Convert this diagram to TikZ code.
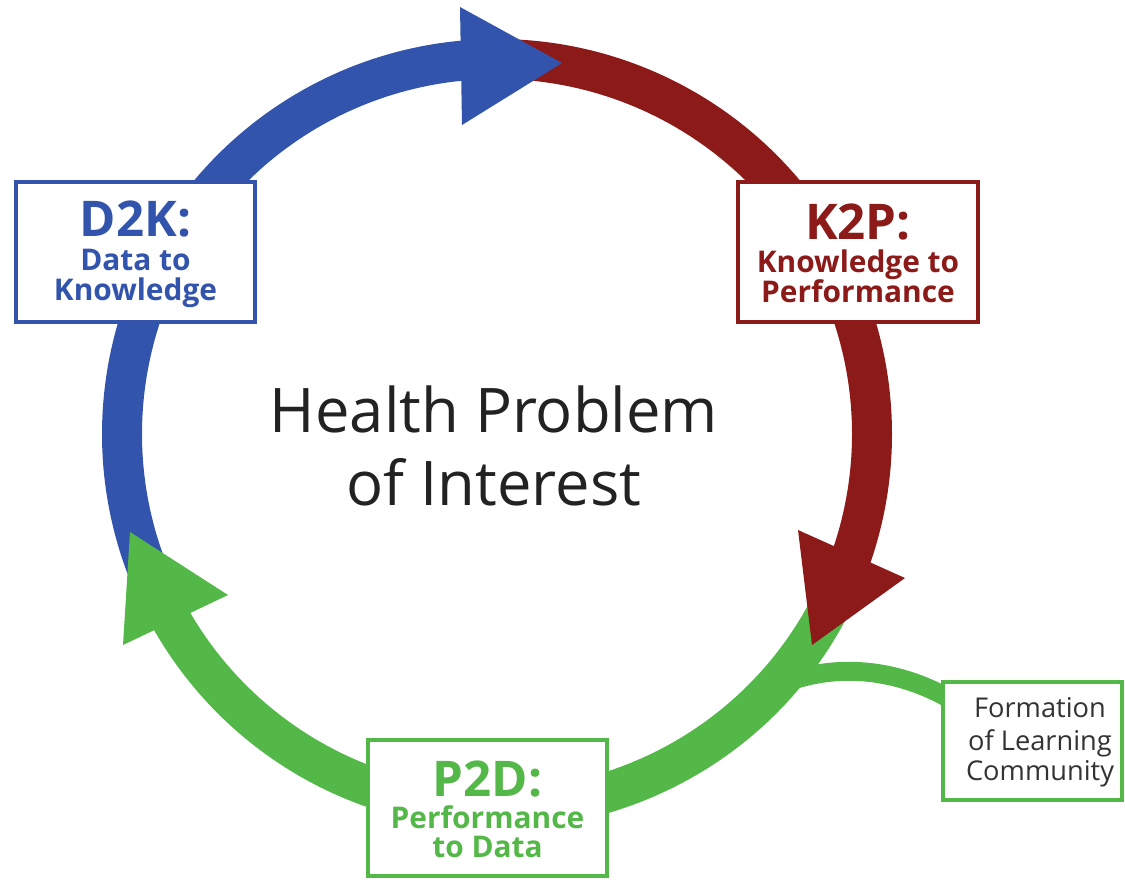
\documentclass[tikz,border=0pt]{standalone}
\usepackage{fontspec}
\setmainfont{Open Sans}
\definecolor{cblue}{RGB}{50,84,172}
\definecolor{cred}{RGB}{140,26,24}
\definecolor{cgreen}{RGB}{84,184,72}
\definecolor{ctext}{RGB}{34,34,34}
\definecolor{cgray}{RGB}{51,51,51}
\begin{document}
\begin{tikzpicture}[x=0.02cm,y=-0.02cm,
  shaft/.style={line width=0.8cm},
  box/.style={draw, line width=0.07cm, fill=white, inner sep=0pt},
  big/.style={font=\fontsize{28}{28}\selectfont\bfseries, anchor=base},
  sub/.style={font=\fontsize{17}{17}\selectfont\bfseries, anchor=base},
  small/.style={font=\fontsize{15.5}{15.5}\selectfont, text=cgray, anchor=base},
  center/.style={font=\fontsize{35}{35}\selectfont, text=ctext, anchor=base}]
\useasboundingbox (0,0) rectangle (1125,880);
\coordinate (O) at (497,434);
% shafts
\draw[shaft, cblue] (O) ++(157:375) arc[start angle=157, end angle=265, radius=375];
\draw[shaft, cred] (O) ++(268:375) arc[start angle=268, end angle=380, radius=375];
\draw[shaft, cgreen] (O) ++(24:375) arc[start angle=24, end angle=151, radius=375];
% feedback branch
\coordinate (fbstart) at (950,699);
\coordinate (join) at (782,684);
\draw[cgreen, line width=0.38cm] (fbstart) .. controls (895,668) and (835,663) .. (join);
% heads
\fill[cblue] (460,7) -- (562,63) -- (462,125) -- cycle;
\fill[cred] (798,530) -- (905,578) -- (812,645) -- cycle;
\fill[cgreen] (130,532) -- (123,645) -- (228,595) -- cycle;
% boxes
\node[box, draw=cblue, minimum width=4.78cm, minimum height=2.8cm] (d2k) at (135.5,252) {};
\node[box, draw=cred, minimum width=4.8cm, minimum height=2.8cm] (k2p) at (858,252) {};
\node[box, draw=cgreen, minimum width=4.78cm, minimum height=2.72cm] (p2d) at (487.5,808) {};
\node[box, draw=cgreen, minimum width=3.58cm, minimum height=2.36cm] (flc) at (1032.5,741) {};
% texts
\node[big, text=cblue] (d2ka) at (135.5,236) {D2K:};
\node[sub, text=cblue] (d2kb) at (135.5,270) {Data to};
\node[sub, text=cblue] (d2kc) at (135.5,300) {Knowledge};
\node[big, text=cred] (k2pa) at (858,239) {K2P:};
\node[sub, text=cred] (k2pb) at (858,272) {Knowledge to};
\node[sub, text=cred] (k2pc) at (858,302) {Performance};
\node[big, text=cgreen] (p2da) at (487.5,796) {P2D:};
\node[sub, text=cgreen] (p2db) at (487.5,828) {Performance};
\node[sub, text=cgreen] (p2dc) at (487.5,857) {to Data};
\node[small] (flca) at (1040,717) {Formation};
\node[small] (flcb) at (1040,750) {of Learning};
\node[small] (flcc) at (1040,780) {Community};
\node[center] (hp1) at (494,432) {Health Problem};
\node[center] (hp2) at (494,505) {of Interest};
\end{tikzpicture}
\end{document}
